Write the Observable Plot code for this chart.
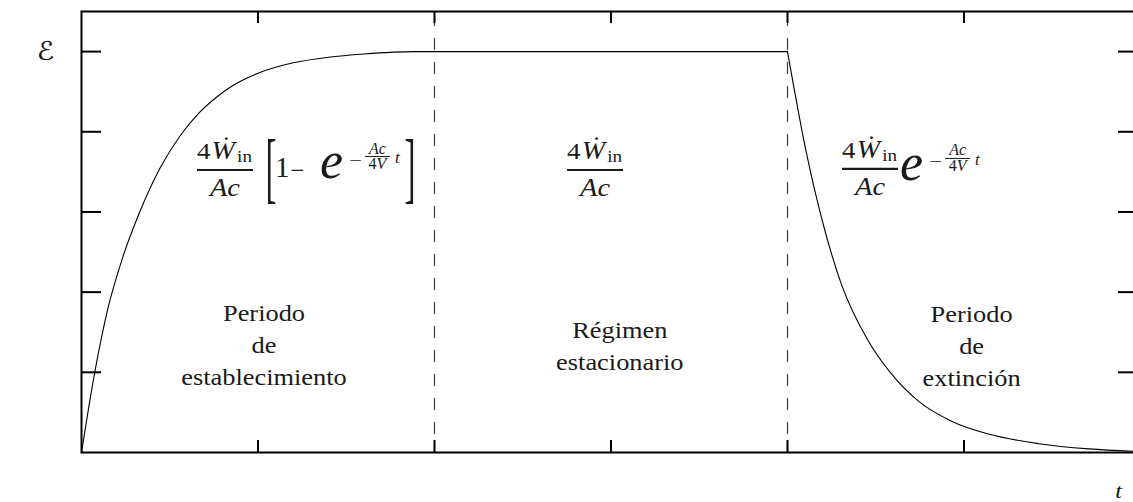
<!DOCTYPE html>
<html>
<head>
<meta charset="utf-8">
<script src="https://cdn.jsdelivr.net/npm/d3@7"></script>
<script src="https://cdn.jsdelivr.net/npm/@observablehq/plot@0.6"></script>
<style>
  html, body { margin: 0; padding: 0; background: #fff; overflow: hidden; }
  #chart { width: 1133px; height: 502px; overflow: hidden; }
  #chart svg { display: block; max-width: none !important; }
</style>
</head>
<body>
<div id="chart"></div>
<script>
// Energy density ℰ(t) in a room: build-up, steady state and decay.
// t in arbitrary time units, ℰ in units of the tick spacing (steady level = 5).

// build-up followed by the steady level
const riseT = [0, 0.075, 0.15, 0.236, 0.33, 0.446, 0.559, 0.673, 0.77, 0.86, 1.0, 1.2, 1.4, 1.6, 1.88, 2.0, 3.0, 4.0];
const riseE = [0, 1.0, 1.8, 2.45, 3.0, 3.55, 3.95, 4.25, 4.44, 4.58, 4.73, 4.86, 4.93, 4.97, 5.0, 5.0, 5.0, 5.0];

// decay once the source is switched off
const decayT = [4.0, 4.106, 4.208, 4.305, 4.458, 4.589, 4.742, 4.929, 5.139, 5.423, 5.707, 6.0];
const decayE = [5.0, 3.75, 2.8, 2.1, 1.39, 0.98, 0.64, 0.39, 0.23, 0.11, 0.045, 0.012];

// period boundaries and tick positions
const boundaries = [2, 4];
const xTicks = [1, 2, 3, 4, 5];
const yTicks = [1, 2, 3, 4, 5];

// period captions
const periodText = ["Periodo\nde\nestablecimiento", "Régimen\nestacionario", "Periodo\nde\nextinción"];
const periodT = [1.034, 3.05, 5.043];
const periodE = [1.37, 1.36, 1.36];

// formula anchors (left end of the main fraction bar)
const formulaT = [0.657, 2.754, 4.312];
const formulaE = [3.517, 3.517, 3.53];

const W = 1142, H = 502;
const mL = 81, mR = 2, mT = 11, mB = 50;
const xDomain = [0, 6], yDomain = [0, 5.5];

const curve = [
  ...riseT.map((t, i) => ({t, E: riseE[i], phase: "on"})),
  ...decayT.map((t, i) => ({t, E: decayE[i], phase: "off"}))
];
const periods = periodText.map((text, i) => ({text, t: periodT[i], E: periodE[i]}));

const serif = '"Liberation Serif", "Times New Roman", Tinos, serif';
const xTickLen = 12 / ((H - mT - mB) / (yDomain[1] - yDomain[0]));
const yTickLen = 20 / ((W - mL - mR) / (xDomain[1] - xDomain[0]));
const yTickLenR = 22 / ((W - mL - mR) / (xDomain[1] - xDomain[0]));

const plot = Plot.plot({
  width: W, height: H,
  marginLeft: mL, marginRight: mR, marginTop: mT, marginBottom: mB,
  x: {domain: xDomain, axis: null},
  y: {domain: yDomain, axis: null},
  style: {background: "white", overflow: "visible", maxWidth: "none"},
  marks: [
    Plot.ruleX(boundaries, {x: d => d, stroke: "#3a3a3a", strokeWidth: 1.2, strokeDasharray: "12,12", strokeDashoffset: 21}),
    Plot.line(curve, {x: "t", y: "E", z: "phase", curve: "monotone-x", stroke: "black", strokeWidth: 1.1}),
    Plot.ruleX(xTicks, {x: d => d, y1: yDomain[0], y2: yDomain[0] + xTickLen, stroke: "black", strokeWidth: 2}),
    Plot.ruleX(xTicks, {x: d => d, y1: yDomain[1] - xTickLen, y2: yDomain[1], stroke: "black", strokeWidth: 2}),
    Plot.ruleY(yTicks, {y: d => d, x1: xDomain[0], x2: xDomain[0] + yTickLen, stroke: "black", strokeWidth: 2}),
    Plot.ruleY(yTicks, {y: d => d, x1: xDomain[1] - yTickLenR, x2: xDomain[1], stroke: "black", strokeWidth: 2}),
    Plot.frame({stroke: "black", strokeWidth: 2}),
    Plot.text(periods, {x: "t", y: "E", text: "text", fontSize: 24, fontFamily: serif, lineHeight: 1.33, fill: "#1a1a1a"}),
    Plot.text(["ℰ"], {x: 0, y: 5, dx: -36, fontSize: 26, fontFamily: '"DejaVu Sans", sans-serif', fill: "#111"}),
    Plot.text(["t"], {x: xDomain[1], y: 0, dx: -22, dy: 38, fontSize: 22, fontStyle: "italic", fontFamily: serif, fill: "#111"})
  ]
});

// slightly wide lettering, as in the printed figure
d3.select(plot).selectAll('g[aria-label="text"] text').each(function () {
  const tr = this.getAttribute("transform") || "";
  this.setAttribute("transform", tr + " scale(1.1,1)");
});

// formulas, positioned through the plot's scales
const sx = plot.scale("x"), sy = plot.scale("y");
const X = sx.apply ? v => sx.apply(v) : d3.scaleLinear(xDomain, [mL, W - mR]);
const Y = sy.apply ? v => sy.apply(v) : d3.scaleLinear(yDomain, [H - mB, mT]);

const svg = d3.select(plot);
const layer = svg.append("g").attr("fill", "#1a1a1a").attr("font-family", serif);

function txt(g, x, y, s, size, opts = {}) {
  const el = g.append("text")
    .attr("x", x).attr("y", y)
    .attr("font-size", size)
    .attr("font-style", opts.italic ? "italic" : null)
    .attr("text-anchor", opts.anchor || "start");
  if (s != null) el.text(s);
  if (opts.length) el.attr("textLength", opts.length).attr("lengthAdjust", "spacingAndGlyphs");
  return el;
}

// 4Ẇ_in / Ac with the bar starting at (0, 0)
function mainFraction(g) {
  const num = txt(g, 0, -11, null, 24, {length: 55});
  num.append("tspan").text("4");
  num.append("tspan").attr("font-style", "italic").attr("font-size", 25).attr("dx", 1).text("W\u0307");
  num.append("tspan").attr("font-size", 17).attr("dx", 2).attr("dy", 3).text("in");
  g.append("line").attr("x1", 0).attr("x2", 56).attr("y1", 0).attr("y2", 0)
    .attr("stroke", "#1a1a1a").attr("stroke-width", 2.2);
  txt(g, 13, 26, "Ac", 25, {italic: true, length: 30});
}

// e^{-Ac/(4V) t} with e starting at (ex, eb)
function decayFactor(g, ex, eb) {
  txt(g, ex - 2, eb, "e", 52, {italic: true});
  txt(g, ex + 27, eb - 12.5, "−", 17, {length: 13});
  txt(g, ex + 55.5, eb - 24.5, "Ac", 16, {italic: true, anchor: "middle"});
  g.append("line").attr("x1", ex + 43).attr("x2", ex + 68).attr("y1", eb - 21.5).attr("y2", eb - 21.5)
    .attr("stroke", "#1a1a1a").attr("stroke-width", 1);
  const den = txt(g, ex + 55.5, eb - 9, "4", 16, {anchor: "middle"});
  den.append("tspan").attr("font-style", "italic").text("V");
  txt(g, ex + 73, eb - 15, "t", 17, {italic: true});
}

function bracket(g, x, s) {
  g.append("text")
    .attr("transform", `translate(${x},${23.5}) scale(0.42,1)`)
    .attr("font-size", 79)
    .attr("text-anchor", "middle")
    .text(s);
}

formulaT.forEach((t, i) => {
  const g = layer.append("g").attr("transform", `translate(${X(t)},${Y(formulaE[i])})`);
  mainFraction(g);
  if (i === 0) {
    // [1 − e^{…}]
    bracket(g, 74, "[");
    txt(g, 78, 7, "1", 29);
    txt(g, 93.5, 9, "−", 26, {length: 14});
    decayFactor(g, 125, 8);
    bracket(g, 213, "]");
  } else if (i === 2) {
    decayFactor(g, 60, 11);
  }
});

document.getElementById("chart").appendChild(plot);
</script>
</body>
</html>
